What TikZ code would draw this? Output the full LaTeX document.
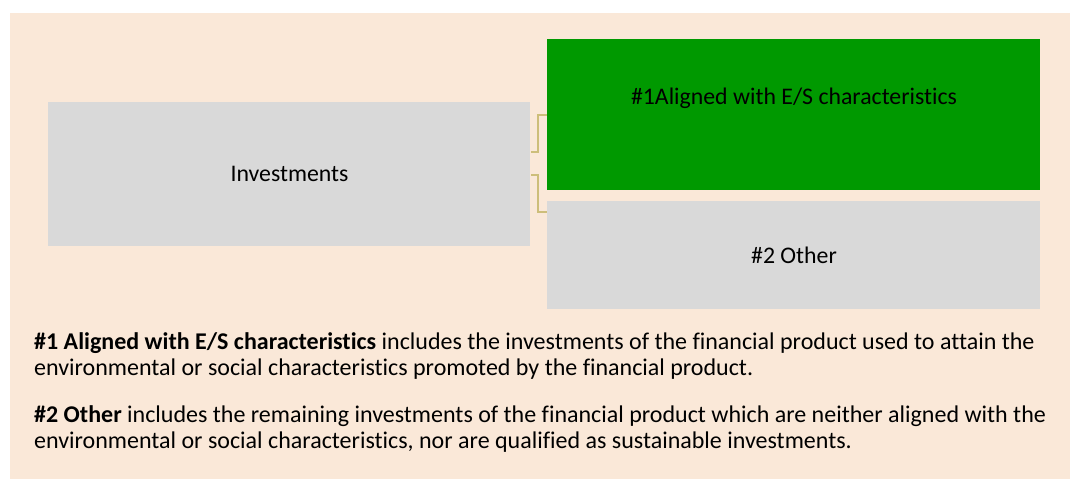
\documentclass[tikz,border=0pt]{standalone}
\usepackage{fontspec}
\setmainfont[Ligatures=NoCommon]{Carlito}
\definecolor{bgc}{RGB}{250,232,216}
\definecolor{boxgray}{RGB}{217,217,217}
\definecolor{boxgreen}{RGB}{0,153,0}
\definecolor{conn}{RGB}{205,190,122}
\begin{document}
\begin{tikzpicture}[x=1pt,y=-1pt,
  box/.style={anchor=base, inner sep=0pt, font=\fontsize{23.8}{28}\selectfont, text=black},
  para/.style={anchor=base west, inner sep=0pt, font=\fontsize{24}{28}\selectfont},
  link/.style={draw=conn, line width=1.6pt}]
\useasboundingbox (0,0) rectangle (1070,479);
\fill[bgc] (10,13) rectangle (1070,479);
\fill[boxgray] (48,102) rectangle (530,246);
\node[box] (inv) at (289.5,181) {Investments};
\fill[boxgreen] (547,39) rectangle (1040,190);
\node[box] (al) at (794,104) {\#1Aligned with E/S characteristics};
\fill[boxgray] (547,201) rectangle (1040,309);
\node[box] (ot) at (794,263) {\#2 Other};
\coordinate (i1) at (531,152);
\coordinate (a1) at (547,115);
\coordinate (i2) at (531,175);
\coordinate (o1) at (547,212);
\draw[link] (i1) -- (538,152) -- (538,115) -- (a1);
\draw[link] (i2) -- (538,175) -- (538,212) -- (o1);
\node[para] (p1) at (34,349) {\textbf{\#1 Aligned with E/S characteristics} includes the investments of the financial product used to attain the};
\node[para] (p2) at (34,375.5) {environmental or social characteristics promoted by the financial product.};
\node[para] (p3) at (34,422) {\textbf{\#2 Other} includes the remaining investments of the financial product which are neither aligned with the};
\node[para] (p4) at (34,448.5) {environmental or social characteristics, nor are qualified as sustainable investments.};
\end{tikzpicture}
\end{document}
